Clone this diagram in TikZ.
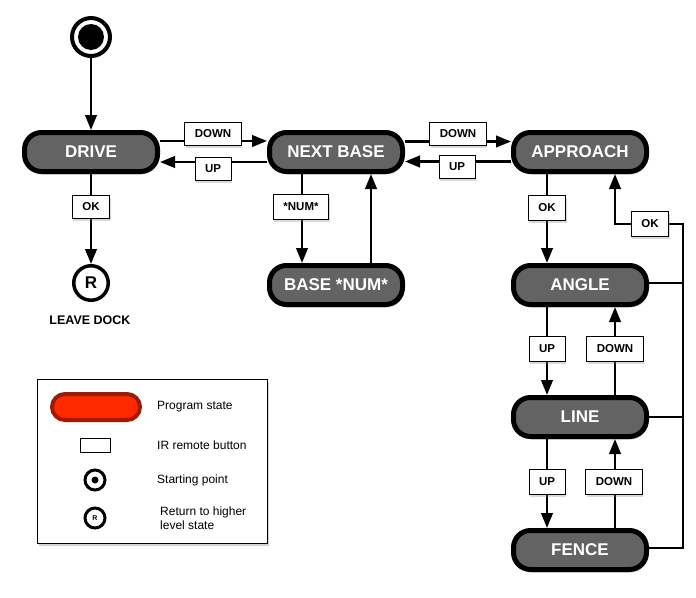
\documentclass[tikz,border=0pt]{standalone}
\usepackage{fontspec}
\setmainfont{Liberation Sans}
\usetikzlibrary{arrows.meta,shadows}
\definecolor{stategray}{HTML}{636363}
\definecolor{legred}{HTML}{FF2A00}
\definecolor{legredborder}{HTML}{9E1A00}
\begin{document}
\begin{tikzpicture}[x=1pt,y=-1pt,
  shad/.style={drop shadow={shadow xshift=1.5pt,shadow yshift=-3pt,opacity=0.35}},
  state/.style={rounded corners=17pt, draw=black, line width=5pt, fill=stategray,
    minimum width=133pt, minimum height=39pt, inner sep=0pt, text=white,
    font=\bfseries\fontsize{17}{20}\selectfont, shad},
  lbl/.style={draw=black, line width=0.8pt, fill=white,
    font=\bfseries\fontsize{11.5}{13}\selectfont, minimum height=23pt,
    inner xsep=10pt, inner ysep=0pt,
    drop shadow={shadow xshift=1pt,shadow yshift=-2pt,opacity=0.3}},
  arr/.style={line width=2.5pt, -{Triangle[length=15pt,width=11.5pt]}},
  ln/.style={line width=2.5pt},
  legtxt/.style={anchor=west, font=\fontsize{12}{13.5}\selectfont, align=left, inner sep=0pt}]
\useasboundingbox (0,0) rectangle (696,597);

% states
\node[state] (drive) at (91,152) {DRIVE};
\node[state] (next) at (336,152) {NEXT BASE};
\node[state] (approach) at (580,152) {APPROACH};
\node[state] (base) at (336,285) {BASE *NUM*};
\node[state] (angle) at (580,285) {ANGLE};
\node[state] (line) at (580,417) {LINE};
\node[state] (fence) at (580,550) {FENCE};

% start and return
\node[circle, draw=black, line width=4pt, fill=white, minimum size=38pt, inner sep=0pt,
  drop shadow={shadow xshift=1pt,shadow yshift=-2pt,opacity=0.3}] (start) at (91,37) {};
\fill[black] (start.center) circle (13pt);
\node[circle, draw=black, line width=3.5pt, fill=white, minimum size=34.5pt, inner sep=0pt,
  font=\bfseries\fontsize{17}{20}\selectfont] (ret) at (91,283) {R};
\node[font=\bfseries\fontsize{12.5}{14}\selectfont, inner sep=0pt] (leave) at (90,320) {LEAVE DOCK};

% connectors
\draw[arr] (start.south) -- (drive.north);
\draw[arr] (drive.south) -- (ret.north);
\draw[arr] ([yshift=11pt]drive.east) -- ([yshift=11pt]next.west);
\draw[arr] ([yshift=-10pt]next.west) -- ([yshift=-10pt]drive.east);
\draw[arr] ([yshift=10.5pt]next.east) -- ([yshift=10.5pt]approach.west);
\draw[arr] ([yshift=-9.5pt]approach.west) -- ([yshift=-9.5pt]next.east);
\draw[arr] ([xshift=-34pt]next.south) -- ([xshift=-34pt]base.north);
\draw[arr] ([xshift=35pt]base.north) -- ([xshift=35pt]next.south);
\draw[arr] ([xshift=-33pt]approach.south) -- ([xshift=-33pt]angle.north);
\draw[arr] ([xshift=-33pt]angle.south) -- ([xshift=-33pt]line.north);
\draw[arr] ([xshift=35pt]line.north) -- ([xshift=35pt]angle.south);
\draw[arr] ([xshift=-33pt]line.south) -- ([xshift=-33pt]fence.north);
\draw[arr] ([xshift=35pt]fence.north) -- ([xshift=35pt]line.south);
\coordinate (rt) at (683,224);
\draw[arr] ([yshift=2pt]fence.east) -| (rt) -| ([xshift=35pt]approach.south);
\draw[ln] ([yshift=2pt]angle.east) -- ([yshift=2pt]angle.east -| rt);
\draw[ln] (line.east) -- (line.east -| rt);

% labels
\node[lbl] (l1) at (213,134) {DOWN};
\node[lbl] (l2) at (213,169) {UP};
\node[lbl] (l3) at (458,134) {DOWN};
\node[lbl] (l4) at (457,167) {UP};
\node[lbl] (l5) at (91,207) {OK};
\node[lbl, minimum height=25pt] (l6) at (301,207) {*NUM*};
\node[lbl, minimum height=25pt] (l7) at (547,208) {OK};
\node[lbl, minimum height=25pt] (l8) at (650,224) {OK};
\node[lbl, minimum height=25pt] (l9) at (547,349) {UP};
\node[lbl, minimum height=25pt] (l10) at (615,349) {DOWN};
\node[lbl, minimum height=25pt] (l11) at (547,482) {UP};
\node[lbl, minimum height=25pt] (l12) at (614,482) {DOWN};

% legend
\node[draw=black, line width=0.9pt, fill=white, minimum width=230pt, minimum height=164pt,
  inner sep=0pt, drop shadow={shadow xshift=2pt,shadow yshift=-3pt,opacity=0.35}] (legend) at (152,461) {};
\node[rounded corners=13pt, draw=legredborder, line width=4pt, fill=legred,
  minimum width=88pt, minimum height=26pt, inner sep=0pt] (lgstate) at (96,407) {};
\node[legtxt] (tstate) at (157,407) {Program state};
\node[draw=black, line width=0.7pt, fill=white, minimum width=30pt, minimum height=14pt,
  inner sep=0pt] (lgbtn) at (95,445) {};
\node[legtxt] (tbtn) at (157,445) {IR remote button};
\node[circle, draw=black, line width=3pt, fill=white, minimum size=20pt, inner sep=0pt] (lgstart) at (95,480) {};
\fill[black] (lgstart.center) circle (3.5pt);
\node[legtxt] (tstart) at (157,480) {Starting point};
\node[circle, draw=black, line width=3pt, fill=white, minimum size=20pt, inner sep=0pt,
  font=\bfseries\fontsize{7}{8}\selectfont] (lgret) at (95,518) {R};
\node[legtxt] (tret) at (160,518) {Return to higher\\level state};
\end{tikzpicture}
\end{document}
